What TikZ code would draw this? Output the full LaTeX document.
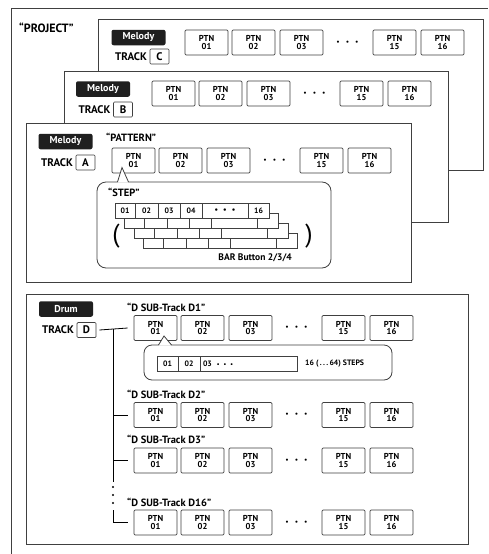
\documentclass[tikz,border=0pt]{standalone}
\usepackage{fontspec}
\setmainfont{PT Sans}
\usetikzlibrary{positioning}

\definecolor{lineGray}{gray}{0.25}
\definecolor{labelBlack}{gray}{0.12}

\tikzset{
  frame/.style={draw=lineGray, line width=0.8pt},
  trackframe/.style={draw=lineGray, line width=0.9pt, fill=white},
  ptn/.style={rectangle, draw=lineGray, line width=0.7pt, rounded corners=1.2pt,
    fill=white, minimum width=43, minimum height=25, inner sep=0pt, align=center,
    font=\bfseries\fontsize{8.6}{7.8}\selectfont},
  ptndots/.style={inner sep=0pt, font=\fontsize{7.5}{7.5}\selectfont},
  kind/.style={rectangle, fill=labelBlack, text=white, rounded corners=2pt,
    minimum width=54, minimum height=15.5, inner sep=0pt,
    font=\bfseries\fontsize{10}{10}\selectfont},
  letterbox/.style={rectangle, draw=lineGray, line width=0.7pt, rounded corners=1pt,
    minimum width=19, minimum height=15, inner sep=0pt,
    font=\bfseries\fontsize{11}{11}\selectfont},
  tracklbl/.style={inner sep=0pt, font=\bfseries\fontsize{11}{11}\selectfont},
  caption/.style={inner sep=0pt, anchor=west, font=\bfseries\fontsize{10.5}{10.5}\selectfont},
  bubble/.style={draw=lineGray, line width=0.8pt, fill=white, rounded corners=9pt},
  cell/.style={draw=lineGray, line width=0.6pt, fill=white},
  stepcell/.style={cell, rectangle, minimum height=15, inner sep=0pt,
    font=\bfseries\fontsize{7.8}{7.8}\selectfont},
  paren/.style={inner sep=0pt, font=\fontsize{26}{26}\selectfont},
  conn/.style={draw=black, line width=0.8pt},
}

% one row of pattern buttons: prefix, x of first centre, y
\newcommand{\ptnrow}[3]{%
  \foreach \k/\dx in {01/0,02/47,03/95,15/188,16/236}{
    \node[ptn] (#1-\k) at (#2+\dx,#3) {PTN\\\k};
  }
  \node[ptndots] (#1-dots) at (#2+141,#3)
    {\textbullet\hspace{6pt}\textbullet\hspace{6pt}\textbullet};
}

\begin{document}
\begin{tikzpicture}[x=1pt,y=-1pt]
\useasboundingbox (0,0) rectangle (488,554);

% project frame
\draw[frame] (11,554) -- (11,8) -- (488,8);
\node[caption, font=\bfseries\fontsize{12}{12}\selectfont] (project) at (19,28) {“PROJECT”};

% track C
\draw[trackframe] (98,19) rectangle (483,170);
\node[kind] (kindC) at (138.5,37.5) {Melody};
\node[letterbox] (trkC) at (159.5,56.5) {C};
\node[tracklbl, left=2.5pt of trkC] (lblC) {TRACK};
\ptnrow{C}{206.5}{42.5}

% track B
\draw[trackframe] (64,71) rectangle (448,222);
\node[kind] (kindB) at (103,89) {Melody};
\node[letterbox] (trkB) at (123,109.5) {B};
\node[tracklbl, left=2.5pt of trkB] (lblB) {TRACK};
\ptnrow{B}{173.5}{93.5}

% track A
\draw[trackframe] (26,123) rectangle (411,282);
\node[kind] (kindA) at (65.5,141.5) {Melody};
\node[letterbox] (trkA) at (85.5,162.5) {A};
\node[tracklbl, left=2.5pt of trkA] (lblA) {TRACK};
\node[caption] (pattern) at (106,137) {“PATTERN”};
\ptnrow{A}{133.5}{160.5}

% step bubble of track A
\draw[bubble] (97,182) rectangle (331,268);
\fill[white] (117.6,182.6) -- (122,167.5) -- (128.4,182.6) -- cycle;
\draw[draw=lineGray, line width=0.8pt] (117.5,182) -- (122,167.5) -- (128.5,182);
\node[caption] (step) at (108,192) {“STEP”};
\foreach \l in {3,2,1}{
  \foreach \a/\b in {115/135,135/158,158/180,180/202,202/248,248/269}
    \draw[cell] (\a+9.5*\l,203+10*\l) rectangle (\b+9.5*\l,218+10*\l);
}
\foreach \a/\b/\n/\t in {115/135/01/01,135/158/02/02,158/180/03/03,180/202/04/04,
    202/248/dots/{\textbullet\hspace{5pt}\textbullet\hspace{5pt}\textbullet},248/269/16/16}
  \node[stepcell, minimum width=\b-\a] (st-\n) at ({(\a+\b)/2},210.5) {\t};
\node[paren] (lpar) at (116,236) {(};
\node[paren] (rpar) at (309,236) {)};
\node[caption, anchor=east, font=\bfseries\fontsize{9.5}{9.5}\selectfont] (bar) at (292,258) {BAR Button 2/3/4};

% drum track
\draw[trackframe] (26,294) rectangle (468,544);
\node[kind] (kindD) at (66,309) {Drum};
\node[letterbox] (trkD) at (86.5,330) {D};
\node[tracklbl, left=2.5pt of trkD] (lblD) {TRACK};

\node[caption] (sub1) at (127,307) {“D SUB-Track D1”};
\ptnrow{D1}{155.5}{328}
\node[caption] (sub2) at (127,394) {“D SUB-Track D2”};
\ptnrow{D2}{155.5}{415}
\node[caption] (sub3) at (127,439) {“D SUB-Track D3”};
\ptnrow{D3}{155.5}{460.5}
\node[caption] (sub16) at (127,502) {“D SUB-Track D16”};
\ptnrow{D16}{155.5}{522.5}

% step bubble of D1
\draw[bubble, rounded corners=8pt] (144,345) rectangle (392,380);
\fill[white] (158.6,345.6) -- (164,336) -- (171.4,345.6) -- cycle;
\draw[draw=lineGray, line width=0.8pt] (158.5,345) -- (164,336) -- (171.5,345);
\node[stepcell, minimum width=21] (dst-01) at (167.5,364) {01};
\node[stepcell, minimum width=22] (dst-02) at (189,364) {02};
\node[stepcell, minimum width=97, text width=91, align=left] (dst-03) at (248.5,364)
  {03\hspace{5pt}{\fontsize{6}{6}\selectfont\textbullet\hspace{4pt}\textbullet\hspace{4pt}\textbullet}};
\node[caption, font=\bfseries\fontsize{7.8}{7.8}\selectfont] (steps) at (305,364) {16 (\,.\,.\,.\,64) STEPS};

% connectors of the sub-tracks
\coordinate (trunk) at (113,329);
\coordinate (trunkend) at (113,482);
\coordinate (trunklow) at (113,510);
\draw[conn] ([xshift=3pt]trkD.east) -- ([xshift=-6pt]D1-01.west);
\draw[conn] (trunk) -- (trunkend);
\draw[conn] (trunk |- D2-01.west) -- ([xshift=-6pt]D2-01.west);
\draw[conn] (trunk |- D3-01.west) -- ([xshift=-6pt]D3-01.west);
\draw[conn] (trunklow) |- ([xshift=-6pt]D16-01.west);
\foreach \yy in {487,495,503}
  \fill (113,\yy) circle (1.2pt);
\end{tikzpicture}
\end{document}
